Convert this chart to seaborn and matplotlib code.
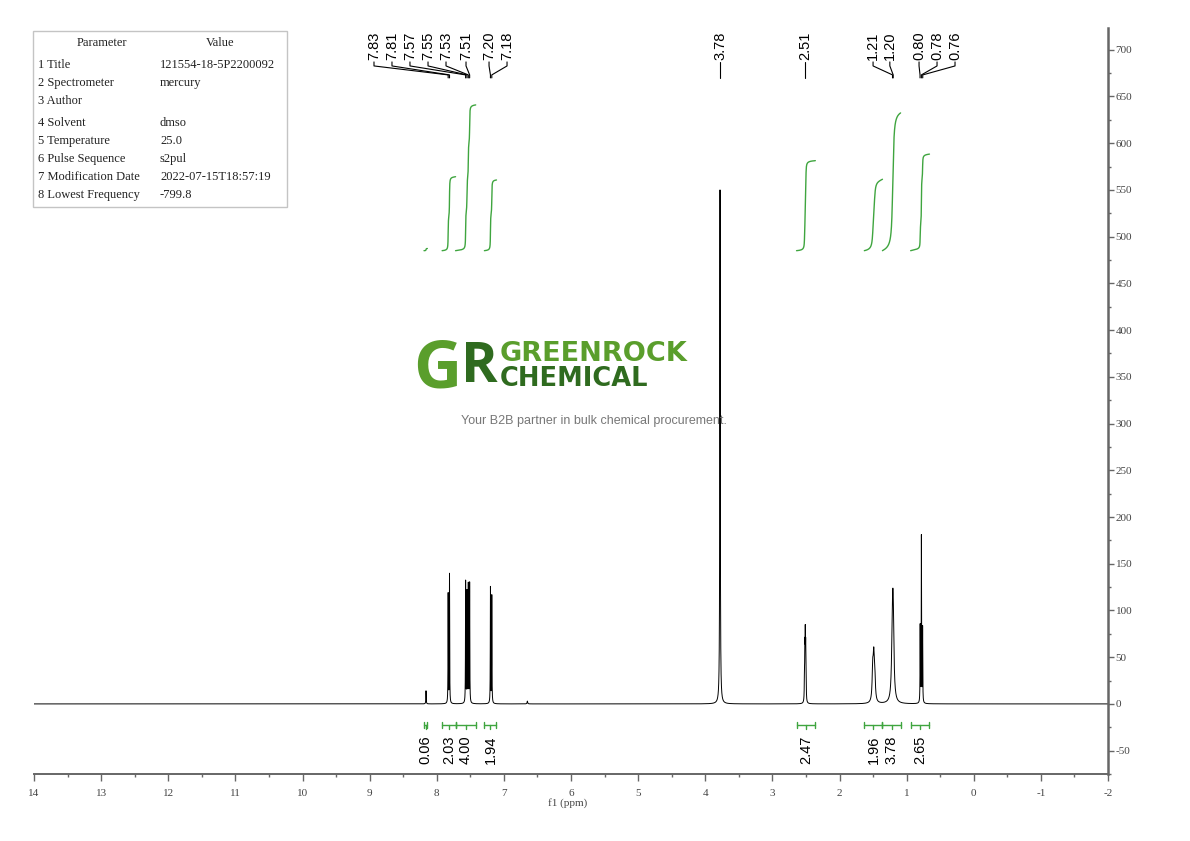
import numpy as np
import pandas as pd
import matplotlib
matplotlib.use("Agg")
import matplotlib.pyplot as plt
import seaborn as sns
from matplotlib.patches import Rectangle

# ========== DATA ==========
# acquisition parameters (table in top-left corner)
param_names = ["1 Title", "2 Spectrometer", "3 Author", "4 Solvent", "5 Temperature",
               "6 Pulse Sequence", "7 Modification Date", "8 Lowest Frequency"]
param_values = ["121554-18-5P2200092", "mercury", "", "dmso", "25.0",
                "s2pul", "2022-07-15T18:57:19", "-799.8"]

# spectrum lines: position (ppm), height, width (FWHM, ppm)
peak_ppm = [8.16, 7.83, 7.81, 7.57, 7.55, 7.53, 7.51, 7.20, 7.18, 6.65,
            3.78,
            2.522, 2.516, 2.510, 2.504, 2.498,
            1.505, 1.49, 1.475,
            1.212, 1.200,
            0.798, 0.780, 0.762]
peak_height = [14, 117, 138, 130, 118, 126, 128, 124, 115, 3,
               550,
               25, 50, 62, 50, 25,
               33, 42, 28,
               72, 80,
               82, 178, 80]
peak_fwhm = [0.006, 0.005, 0.005, 0.005, 0.005, 0.005, 0.005, 0.005, 0.005, 0.01,
             0.008,
             0.006, 0.006, 0.006, 0.006, 0.006,
             0.02, 0.02, 0.02,
             0.025, 0.025,
             0.005, 0.005, 0.005]

# peak labels on top and where the label text sits (ppm)
shift_labels = ["7.83", "7.81", "7.57", "7.55", "7.53", "7.51", "7.20", "7.18",
                "3.78", "2.51", "1.21", "1.20", "0.80", "0.78", "0.76"]
label_ppm = [8.935, 8.667, 8.399, 8.130, 7.862, 7.564, 7.221, 6.953,
             3.78, 2.51, 1.50, 1.25, 0.815, 0.547, 0.279]

# integration regions
int_values = [0.06, 2.03, 4.00, 1.94, 2.47, 1.96, 3.78, 2.65]
int_from = [8.19, 7.92, 7.72, 7.29, 2.64, 1.63, 1.36, 0.94]
int_to = [8.14, 7.72, 7.42, 7.11, 2.36, 1.36, 1.09, 0.66]

x_ticks = list(range(14, -3, -1))
y_ticks = list(range(-50, 701, 50))

# ========== STYLE ==========
sns.set_style("ticks")
plt.rcParams['font.family'] = ['Liberation Serif', 'DejaVu Serif']
plt.rcParams['axes.unicode_minus'] = False

W, H = 1190, 841
fig = plt.figure(figsize=(W / 100, H / 100), dpi=100)
ax = fig.add_axes([34 / W, 1 - 774 / H, (1108 - 34) / W, (774 - 28) / H])
ax.patch.set_alpha(0)

green = '#3fa53f'
axis_grey = '#666666'

# ========== SPECTRUM ==========
ppm = np.linspace(14, -2, 120001)
intensity = np.zeros_like(ppm)
for p, h, w in zip(peak_ppm, peak_height, peak_fwhm):
    intensity += h / (1 + ((ppm - p) / (w / 2)) ** 2)

spec = pd.DataFrame({'ppm': ppm, 'intensity': intensity})
sns.lineplot(data=spec, x='ppm', y='intensity', color='black', lw=0.7,
             sort=False, estimator=None, ax=ax)

# ========== INTEGRALS ==========
int_base = 485
int_scale = 39.0
for val, a, b in zip(int_values, int_from, int_to):
    m = (ppm <= a) & (ppm >= b)
    c = np.cumsum(intensity[m])
    c = int_base + c / c[-1] * val * int_scale
    sns.lineplot(x=ppm[m], y=c, color=green, lw=1.0, sort=False, estimator=None, ax=ax)

    # bracket below the baseline
    mid = (a + b) / 2
    yb = -22.4
    ax.plot([a, b], [yb, yb], color=green, lw=1.0)
    ax.plot([a, a], [yb - 3.5, yb + 3.5], color=green, lw=1.0)
    ax.plot([b, b], [yb - 3.5, yb + 3.5], color=green, lw=1.0)
    ax.plot([mid, mid], [yb, yb - 4.5], color=green, lw=1.0)
    ax.text(mid, -33.5, f"{val:.2f}", rotation=90, ha='center', va='top',
            fontsize=10.5, family='Liberation Sans', color='black')

# ========== PEAK LABELS ==========
for lab, lx in zip(shift_labels, label_ppm):
    px = float(lab)
    ax.text(lx, 689.5, lab, rotation=90, ha='center', va='bottom',
            fontsize=10.5, family='Liberation Sans', color='black')
    ax.plot([lx, lx, px, px], [687, 682.7, 673.1, 669.9], color='black', lw=0.8)

# ========== AXES ==========
ax.set_xlim(14, -2)
ax.set_ylim(-73.7, 723.3)
ax.set_xticks(x_ticks)
ax.set_xticklabels([str(t) for t in x_ticks])
ax.set_xticks(np.arange(13.5, -2, -1), minor=True)
ax.yaxis.tick_right()
ax.set_yticks(y_ticks)
ax.set_yticklabels([str(t) for t in y_ticks])
ax.set_yticks(np.arange(-75, 720, 25), minor=True)
ax.set_xlabel('f1 (ppm)', fontsize=8, color='#444444', labelpad=0)
ax.set_ylabel('')
ax.xaxis.set_label_coords(0.497, -0.032)

for s in ['left', 'top']:
    ax.spines[s].set_visible(False)
ax.spines['bottom'].set_color(axis_grey)
ax.spines['bottom'].set_linewidth(1.4)
ax.spines['right'].set_color(axis_grey)
ax.spines['right'].set_linewidth(1.8)
ax.tick_params(axis='x', which='major', length=5, width=1, color=axis_grey,
               labelsize=8, labelcolor='#444444', pad=6)
ax.tick_params(axis='y', which='major', length=4, width=1, color=axis_grey,
               labelsize=8, labelcolor='#444444', pad=1.5)
ax.tick_params(axis='both', which='minor', length=2.5, width=1, color=axis_grey)

# ========== PARAMETER TABLE ==========
def fx(px):
    return px / W

def fy(py):
    return 1 - py / H

fig.patches.append(Rectangle((fx(33), fy(207)), fx(287) - fx(33), fy(31) - fy(207),
                             transform=fig.transFigure, fill=False,
                             edgecolor='#c4c4c4', lw=1.0))
fig.text(fx(102), fy(43), 'Parameter', ha='center', va='center', fontsize=9, color='#222222')
fig.text(fx(220), fy(43), 'Value', ha='center', va='center', fontsize=9, color='#222222')
row_y = [65, 83, 101, 123, 141, 159, 177, 195]
for name, val, ry in zip(param_names, param_values, row_y):
    fig.text(fx(38), fy(ry), name, ha='left', va='center', fontsize=9, color='#222222')
    fig.text(fx(160), fy(ry), val, ha='left', va='center', fontsize=9, color='#222222')

# ========== WATERMARK ==========
fig.text(fx(437), fy(370), 'G', ha='center', va='center', fontsize=48,
         fontweight='bold', family='Open Sans', color='#5a9e2c')
fig.text(fx(461), fy(368), 'R', ha='left', va='center', fontsize=40,
         fontweight='bold', family='Open Sans', color='#2f6b1f')
fig.text(fx(500), fy(361), 'GREENROCK', ha='left', va='baseline', fontsize=19.5,
         fontweight='bold', family='DejaVu Sans', color='#5a9e2c')
fig.text(fx(500), fy(386), 'CHEMICAL', ha='left', va='baseline', fontsize=18.5,
         fontweight='bold', family='DejaVu Sans', color='#2f6b1f')
fig.text(fx(594), fy(421), 'Your B2B partner in bulk chemical procurement.', ha='center',
         va='center', fontsize=9, family='Liberation Sans', color='#777777')

fig.savefig('out.png', dpi=100)
